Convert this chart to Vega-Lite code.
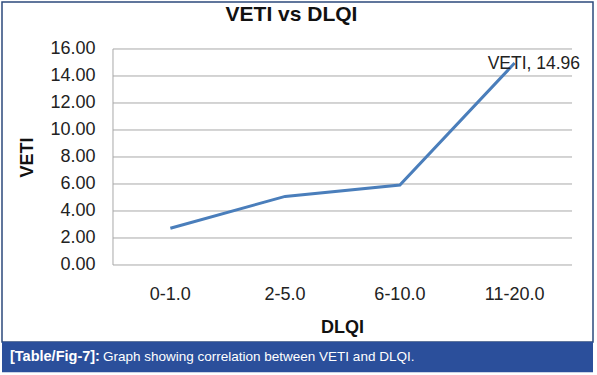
{
  "$schema": "https://vega.github.io/schema/vega-lite/v6.json",
  "autosize": {"type": "none"},
  "padding": {"left": 2, "top": 2, "right": 4, "bottom": 0},
  "width": 591,
  "height": 373,
  "background": "white",
  "config": {"view": {"stroke": null}, "font": "Liberation Sans"},
  "title": {"text": "VETI vs DLQI", "fontSize": 21, "fontWeight": "bold", "color": "#111", "font": "Liberation Sans", "offset": -24, "dx": -6, "anchor": "middle", "frame": "group"},
  "datasets": {
    "main": [
      {"cat": "0-1.0", "veti": 2.72, "label": ""},
      {"cat": "2-5.0", "veti": 5.08, "label": ""},
      {"cat": "6-10.0", "veti": 5.92, "label": ""},
      {"cat": "11-20.0", "veti": 14.96, "label": "VETI, 14.96"}
    ],
    "grid": [{"g": 0}, {"g": 2}, {"g": 4}, {"g": 6}, {"g": 8}, {"g": 10}, {"g": 12}, {"g": 14}, {"g": 16}],
    "frame": [{"top": 19.48, "bottom": -5.70, "bartop": -5.70, "barbottom": -7.95}],
    "caption": [{"bold": "[Table/Fig-7]:", "rest": "Graph showing correlation between VETI and DLQI.", "yc": -6.82}]
  },
  "encoding": {
    "x": {"field": "cat", "type": "nominal", "sort": ["0-1.0", "2-5.0", "6-10.0", "11-20.0"],
      "scale": {"type": "band", "domain": ["0-1.0", "2-5.0", "6-10.0", "11-20.0"], "paddingInner": 0, "paddingOuter": 0.575, "align": 0.841},
      "axis": {"title": "DLQI", "orient": "bottom", "offset": -108, "domain": false, "ticks": false, "tickSize": 0, "grid": false, "labelAngle": 0,
        "labelFontSize": 18, "labelColor": "#222", "labelPadding": 18, "titleFontSize": 18, "titleFontWeight": "bold", "titleColor": "#111", "titlePadding": 15, "titleX": 340}
    },
    "y": {"type": "quantitative",
      "scale": {"domain": [-8.148, 19.481], "nice": false, "zero": false},
      "axis": {"title": "VETI", "orient": "left", "offset": -111, "values": [0, 2, 4, 6, 8, 10, 12, 14, 16], "format": ".2f", "domain": false, "ticks": false, "tickSize": 0, "grid": false,
        "labelFontSize": 18, "labelColor": "#222", "labelPadding": 18, "titleFontSize": 18, "titleFontWeight": "bold", "titleColor": "#111", "titlePadding": 13, "titleY": 155}
    }
  },
  "layer": [
    {
      "data": {"name": "frame"},
      "mark": {"type": "rect", "fill": null, "stroke": "#2c4a7c", "strokeWidth": 1.5},
      "encoding": {"x": null, "y": {"field": "top", "type": "quantitative"}, "y2": {"field": "bottom"}}
    },
    {
      "data": {"name": "frame"},
      "mark": {"type": "rect", "fill": "#2b4f9b"},
      "encoding": {"x": null, "y": {"field": "bartop", "type": "quantitative"}, "y2": {"field": "barbottom"}}
    },
    {
      "data": {"name": "grid"},
      "mark": {"type": "rule", "color": "#a8a8a8", "strokeWidth": 1},
      "encoding": {
        "x": {"datum": "0-1.0", "bandPosition": 0},
        "x2": {"datum": "11-20.0", "bandPosition": 1},
        "y": {"field": "g", "type": "quantitative"}
      }
    },
    {
      "data": {"values": [{"a": 0, "b": 16}]},
      "mark": {"type": "rule", "color": "#a8a8a8", "strokeWidth": 1},
      "encoding": {
        "x": {"datum": "0-1.0", "bandPosition": 0},
        "y": {"field": "a", "type": "quantitative"},
        "y2": {"field": "b"}
      }
    },
    {
      "data": {"name": "main"},
      "mark": {"type": "line", "color": "#4a7ebb", "strokeWidth": 3},
      "encoding": {"y": {"field": "veti", "type": "quantitative"}}
    },
    {
      "data": {"name": "main"},
      "mark": {"type": "text", "align": "left", "baseline": "middle", "dx": -27, "dy": 1, "fontSize": 17.5, "color": "#222"},
      "encoding": {"y": {"field": "veti", "type": "quantitative"}, "text": {"field": "label"}}
    },
    {
      "data": {"name": "caption"},
      "mark": {"type": "text", "align": "left", "baseline": "middle", "dx": -103, "fontSize": 14.5, "fontWeight": "bold", "color": "white", "font": "Liberation Sans"},
      "encoding": {"x": {"datum": "0-1.0", "bandPosition": 0}, "y": {"field": "yc", "type": "quantitative"}, "text": {"field": "bold"}}
    },
    {
      "data": {"name": "caption"},
      "mark": {"type": "text", "align": "left", "baseline": "middle", "dx": -10, "fontSize": 13.5, "color": "white", "font": "Liberation Sans"},
      "encoding": {"x": {"datum": "0-1.0", "bandPosition": 0}, "y": {"field": "yc", "type": "quantitative"}, "text": {"field": "rest"}}
    }
  ]
}
